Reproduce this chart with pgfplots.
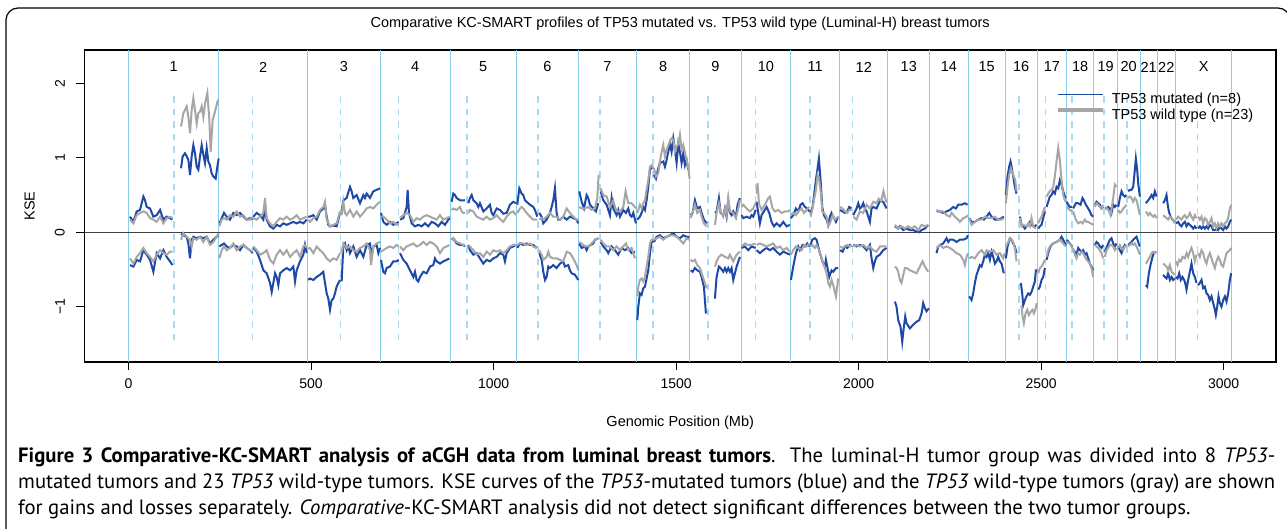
\documentclass[border=0pt]{standalone}
\usepackage{pgfplots}
\pgfplotsset{compat=1.18}
\usepackage{pgfplotstable}
\usepackage{fontspec}
\setmainfont{Liberation Sans}
\newfontfamily\capfont{PT Sans}
\definecolor{mutblue}{RGB}{31,73,166}
\definecolor{wtgray}{RGB}{166,166,166}
\definecolor{chrline}{RGB}{135,206,235}
\definecolor{cenline}{RGB}{170,218,242}

% gains, TP53 mutated
\pgfplotstableread{
x y
4.1 0.21
13.2 0.14
22.4 0.28
31.5 0.30
40.6 0.48
45.2 0.43
49.8 0.34
58.9 0.32
68.0 0.21
77.1 0.23
86.3 0.30
95.4 0.17
104.5 0.21
113.6 0.19
120.1 0.17
nan nan
143.8 0.86
148.4 1.02
154.7 1.06
159.3 1.02
163.9 0.97
168.4 0.77
173.0 1.02
177.6 1.17
182.1 1.06
186.7 0.88
191.3 0.84
195.8 1.02
200.4 1.17
205.0 1.04
209.5 0.93
214.1 1.13
218.6 0.95
223.2 0.90
227.8 0.79
232.3 0.75
238.7 0.72
243.3 0.88
246.9 0.99
nan nan
248.8 0.12
255.2 0.19
261.6 0.26
268.9 0.21
278.0 0.17
287.2 0.26
296.3 0.23
305.4 0.26
314.5 0.21
323.7 0.17
332.8 0.19
340.1 0.17
nan nan
341.9 0.21
351.0 0.26
360.2 0.23
369.3 0.17
373.9 0.34
378.4 0.17
387.6 0.08
396.7 0.05
405.8 0.10
415.0 0.08
424.1 0.12
433.2 0.10
442.4 0.12
451.5 0.14
460.6 0.12
469.7 0.14
478.9 0.12
488.0 0.17
nan nan
492.0 0.21
497.1 0.21
506.2 0.23
515.4 0.17
524.5 0.28
533.6 0.32
538.2 0.37
542.8 0.21
547.3 0.10
551.9 0.08
561.0 0.09
570.1 0.08
579.3 0.26
nan nan
583.8 0.28
588.4 0.43
597.5 0.46
606.7 0.61
611.2 0.55
615.8 0.46
624.9 0.50
634.1 0.39
643.2 0.50
647.7 0.46
652.3 0.52
661.4 0.46
670.6 0.55
679.7 0.57
688.8 0.59
nan nan
691.5 0.26
697.9 0.14
707.1 0.10
716.2 0.14
725.3 0.10
734.5 0.12
739.9 0.14
nan nan
743.6 0.17
752.7 0.19
761.9 0.34
764.6 0.57
768.3 0.26
775.6 0.12
784.7 0.08
793.8 0.10
803.0 0.08
812.1 0.12
821.2 0.08
830.3 0.14
839.5 0.12
848.6 0.08
857.7 0.14
866.9 0.10
876.0 0.17
880.0 0.19
nan nan
885.1 0.41
889.7 0.52
894.3 0.50
898.8 0.46
908.0 0.43
917.1 0.43
921.6 0.43
nan nan
930.8 0.39
935.3 0.46
939.9 0.50
944.5 0.43
953.6 0.39
958.2 0.34
962.7 0.39
971.9 0.28
981.0 0.32
990.1 0.37
994.7 0.26
999.3 0.23
1008.4 0.32
1017.5 0.30
1026.6 0.25
1035.8 0.26
1044.9 0.37
1054.0 0.41
1061.0 0.39
nan nan
1065.0 0.37
1070.5 0.59
1076.8 0.52
1081.4 0.50
1086.0 0.43
1095.1 0.39
1099.7 0.37
1108.8 0.34
1113.4 0.30
1119.8 0.21
nan nan
1125.2 0.26
1131.6 0.21
1136.2 0.12
1145.3 0.17
1154.5 0.26
1159.0 0.34
1163.6 0.43
1168.1 0.59
1172.7 0.26
1177.3 0.17
1181.8 0.17
1191.0 0.21
1200.1 0.17
1209.2 0.21
1218.4 0.19
1227.5 0.17
1232.1 0.12
nan nan
1234.8 0.55
1241.2 0.41
1247.6 0.32
1254.9 0.50
1259.4 0.46
1264.0 0.37
1273.1 0.32
1280.4 0.28
1286.8 0.39
nan nan
1293.2 0.55
1300.5 0.43
1309.7 0.37
1314.2 0.30
1318.8 0.23
1323.4 0.46
1327.9 0.32
1337.1 0.23
1341.6 0.30
1346.2 0.21
1355.3 0.30
1362.6 0.26
1369.0 0.32
1373.6 0.23
1378.1 0.21
1382.7 0.26
1390.0 0.12
nan nan
1393.7 0.17
1400.9 0.21
1405.5 0.26
1410.1 0.34
1414.7 0.30
1419.2 0.43
1423.8 0.61
1428.4 0.84
1432.9 0.86
1437.5 0.88
nan nan
1439.3 0.77
1444.8 0.72
1451.2 0.86
1455.7 0.93
1464.9 0.95
1469.4 0.88
1474.0 0.97
1483.1 1.19
1487.7 1.08
1492.3 1.26
1496.8 1.11
1501.4 0.93
1506.0 1.19
1510.5 1.08
1515.1 0.93
1519.7 1.06
1524.2 0.90
1528.8 0.97
1533.3 0.84
nan nan
1540.0 0.23
1545.2 0.26
1551.6 0.43
1558.0 0.32
1565.3 0.34
1569.9 0.26
1576.2 0.17
1583.6 0.12
nan nan
1606.4 0.26
1610.9 0.28
1617.3 0.46
1621.9 0.26
1629.2 0.23
1633.8 0.32
1638.3 0.21
1642.9 0.43
1647.5 0.26
1652.0 0.23
1656.6 0.28
1663.9 0.21
1668.5 0.37
1674.9 0.46
nan nan
1679.4 0.23
1684.0 0.19
1693.1 0.21
1702.2 0.19
1706.8 0.23
1711.4 0.21
1717.8 0.30
nan nan
1720.5 0.41
1725.1 0.26
1729.6 0.12
1734.2 0.23
1740.6 0.28
1747.9 0.34
1755.2 0.26
1761.6 0.14
1768.0 0.08
1775.3 0.12
1784.4 0.08
1793.5 0.14
1802.7 0.08
1811.8 0.10
nan nan
1814.5 0.19
1820.9 0.23
1828.2 0.32
1834.6 0.28
1841.0 0.37
1846.5 0.39
1852.9 0.34
1859.3 0.32
1864.8 0.28
nan nan
1868.4 0.26
1873.9 0.34
1877.5 0.48
1883.0 0.70
1887.6 0.86
1891.2 0.99
1895.8 0.70
1900.4 0.34
1904.9 0.23
1912.2 0.17
1916.8 0.10
1921.4 0.21
1925.9 0.26
1930.5 0.21
1937.8 0.14
1944.2 0.21
nan nan
1948.8 0.30
1956.1 0.28
1962.4 0.26
1968.8 0.28
1974.3 0.34
1980.7 0.32
nan nan
1985.3 0.23
1994.4 0.32
1999.0 0.39
2003.5 0.32
2008.1 0.34
2012.7 0.39
2017.2 0.32
2021.8 0.28
2026.4 0.21
2030.9 0.14
2035.5 0.32
2040.1 0.34
2049.2 0.32
2058.3 0.42
2067.4 0.41
2076.6 0.32
nan nan
2099.4 0.08
2108.5 0.05
2113.1 0.08
2122.2 0.03
2131.3 0.05
2140.5 0.03
2149.6 0.03
2158.7 0.01
2166.0 0.00
2172.4 0.03
2181.6 0.05
2190.7 0.10
nan nan
2213.5 0.28
2222.6 0.28
2231.8 0.26
2240.9 0.28
2250.0 0.30
2259.2 0.34
2266.5 0.32
2272.9 0.37
2282.0 0.37
2291.1 0.39
2298.4 0.37
nan nan
2303.0 0.19
2309.4 0.14
2318.5 0.14
2327.6 0.17
2336.8 0.19
2343.2 0.17
2350.5 0.21
2357.8 0.26
2364.2 0.21
2373.3 0.17
2382.4 0.17
2391.5 0.19
2397.9 0.21
nan nan
2403.4 0.50
2408.0 0.75
2412.5 0.88
2416.2 0.95
2419.8 0.86
2423.5 0.75
2428.0 0.61
2432.6 0.52
nan nan
2441.8 0.21
2446.3 0.10
2450.9 0.08
2455.5 0.05
2460.0 0.08
2464.6 0.10
2469.2 0.14
2473.7 0.10
2478.3 0.08
2482.8 0.08
2487.4 0.10
nan nan
2492.0 0.05
2496.5 0.08
2501.1 0.10
2505.7 0.19
2510.2 0.28
nan nan
2514.8 0.34
2519.4 0.41
2523.9 0.48
2528.5 0.50
2533.1 0.55
2537.6 0.52
2542.2 0.61
2546.8 0.59
2551.3 0.70
2555.9 0.64
2560.5 0.55
2565.0 0.48
2567.8 0.46
nan nan
2569.6 0.41
2574.2 0.37
2578.7 0.34
2585.1 0.34
nan nan
2587.8 0.32
2595.1 0.39
2601.5 0.39
2607.9 0.37
2613.4 0.46
2617.0 0.43
2622.5 0.37
2628.9 0.32
2633.5 0.28
2638.0 0.23
2642.6 0.21
nan nan
2647.2 0.37
2651.7 0.41
2656.3 0.39
2660.9 0.37
2665.4 0.32
2670.0 0.34
nan nan
2674.6 0.32
2679.1 0.32
2683.7 0.34
2688.3 0.32
2692.8 0.26
2697.4 0.37
2702.0 0.34
2706.5 0.37
nan nan
2711.1 0.34
2715.7 0.46
2720.2 0.55
2724.8 0.50
2729.3 0.48
2733.9 0.50
nan nan
2738.5 0.55
2743.0 0.57
2747.6 0.57
2752.2 0.61
2756.7 0.84
2759.5 0.99
2763.1 0.84
2765.9 0.66
2770.4 0.48
nan nan
2786.9 0.39
2793.3 0.43
2797.8 0.46
2802.4 0.50
2807.0 0.46
2811.5 0.55
2816.1 0.48
nan nan
2834.3 0.39
2838.9 0.43
2843.5 0.50
2846.2 0.39
2849.9 0.28
2854.4 0.21
2859.9 0.17
2866.3 0.14
nan nan
2869.0 0.12
2875.4 0.14
2880.0 0.10
2884.6 0.08
2889.1 0.12
2893.7 0.14
2898.3 0.08
2902.8 0.12
2907.4 0.10
2911.9 0.08
2916.5 0.05
2921.1 0.08
2925.6 0.05
nan nan
2930.2 0.05
2934.8 0.08
2939.3 0.05
2943.9 0.08
2948.5 0.05
2953.0 0.08
2957.6 0.05
2962.2 0.10
2966.7 0.08
2971.3 0.03
2975.9 0.03
2980.4 0.05
2985.0 0.03
2989.6 0.08
2994.1 0.05
2998.7 0.03
3003.3 0.08
3007.8 0.05
3012.4 0.08
3017.0 0.14
3020.6 0.17
}\gainmut

% gains, TP53 wild type
\pgfplotstableread{
x y
4.1 0.17
13.2 0.12
22.4 0.23
31.5 0.26
40.6 0.28
49.8 0.26
58.9 0.19
68.0 0.17
77.1 0.14
86.3 0.21
95.4 0.12
104.5 0.19
113.6 0.21
120.1 0.19
nan nan
143.8 1.42
150.2 1.60
159.3 1.69
163.9 1.55
168.4 1.33
173.0 1.64
177.6 1.80
182.1 1.64
186.7 1.46
191.3 1.60
195.8 1.62
200.4 1.69
205.0 1.55
209.5 1.73
215.9 1.87
221.4 1.51
225.0 1.08
230.5 1.51
236.9 1.62
243.3 1.75
246.9 1.78
nan nan
248.8 0.08
255.2 0.17
261.6 0.19
268.9 0.17
278.0 0.23
287.2 0.21
296.3 0.28
305.4 0.21
314.5 0.23
323.7 0.17
332.8 0.17
340.1 0.21
nan nan
341.9 0.19
351.0 0.17
360.2 0.21
369.3 0.26
373.9 0.46
378.4 0.19
387.6 0.12
396.7 0.08
405.8 0.14
415.0 0.19
424.1 0.17
433.2 0.21
442.4 0.17
451.5 0.19
460.6 0.23
469.7 0.17
478.9 0.19
488.0 0.21
nan nan
492.0 0.17
497.1 0.14
506.2 0.19
515.4 0.21
524.5 0.30
533.6 0.34
538.2 0.41
542.8 0.17
551.9 0.08
561.0 0.10
570.1 0.12
579.3 0.28
nan nan
583.8 0.23
588.4 0.41
593.0 0.26
597.5 0.23
606.7 0.30
615.8 0.21
624.9 0.28
634.1 0.21
643.2 0.26
652.3 0.32
661.4 0.34
670.6 0.32
679.7 0.37
688.8 0.41
nan nan
691.5 0.21
697.9 0.21
707.1 0.17
716.2 0.12
725.3 0.14
734.5 0.10
739.9 0.12
nan nan
743.6 0.19
752.7 0.23
761.9 0.26
771.0 0.23
780.1 0.14
789.3 0.19
798.4 0.17
807.5 0.21
816.7 0.23
825.8 0.21
834.9 0.19
844.0 0.17
853.2 0.23
862.3 0.17
871.4 0.19
880.0 0.21
nan nan
885.1 0.30
889.7 0.32
898.8 0.30
908.0 0.34
912.5 0.28
917.1 0.26
921.6 0.26
nan nan
930.8 0.26
935.3 0.30
944.5 0.28
953.6 0.21
962.7 0.19
971.9 0.17
981.0 0.21
990.1 0.17
999.3 0.19
1008.4 0.23
1017.5 0.18
1026.6 0.14
1035.8 0.21
1044.9 0.26
1054.0 0.28
1061.0 0.23
nan nan
1065.0 0.26
1072.3 0.32
1076.8 0.34
1081.4 0.32
1090.5 0.26
1099.7 0.21
1108.8 0.17
1119.8 0.17
nan nan
1125.2 0.17
1131.6 0.19
1136.2 0.17
1145.3 0.21
1154.5 0.26
1163.6 0.21
1172.7 0.21
1181.8 0.17
1191.0 0.21
1200.1 0.32
1209.2 0.26
1218.4 0.21
1227.5 0.17
1232.1 0.17
nan nan
1234.8 0.34
1241.2 0.32
1250.3 0.32
1259.4 0.34
1268.6 0.30
1277.7 0.32
1284.1 0.46
1287.8 0.77
nan nan
1293.2 0.59
1300.5 0.50
1309.7 0.48
1318.8 0.34
1327.9 0.43
1332.5 0.34
1337.1 0.28
1346.2 0.28
1355.3 0.34
1361.7 0.55
1369.0 0.39
1378.1 0.39
1387.3 0.34
1391.0 0.32
nan nan
1393.7 0.26
1400.9 0.37
1405.5 0.32
1410.1 0.39
1414.7 0.43
1419.2 0.57
1423.8 0.70
1428.4 0.88
1432.9 0.90
1437.5 0.86
nan nan
1439.3 0.86
1444.8 0.75
1451.2 0.79
1455.7 0.95
1460.3 1.08
1464.9 1.17
1469.4 1.02
1474.0 1.11
1483.1 1.22
1487.7 1.26
1492.3 1.24
1496.8 1.08
1501.4 1.15
1506.0 1.19
1510.5 1.31
1515.1 1.11
1519.7 1.17
1528.8 0.97
1533.3 0.86
1537.0 0.72
nan nan
1540.0 0.19
1545.2 0.26
1551.6 0.37
1558.0 0.26
1565.3 0.30
1569.9 0.21
1576.2 0.12
1583.6 0.08
nan nan
1606.4 0.10
1610.9 0.26
1617.3 0.39
1621.9 0.28
1629.2 0.21
1633.8 0.32
1638.3 0.23
1642.9 0.46
1647.5 0.28
1656.6 0.26
1663.9 0.19
1668.5 0.28
1674.9 0.43
nan nan
1679.4 0.34
1684.0 0.37
1693.1 0.32
1702.2 0.28
1711.4 0.32
1717.8 0.39
nan nan
1720.5 0.52
1723.2 0.66
1726.9 0.39
1734.2 0.30
1743.3 0.37
1752.5 0.46
1757.0 0.48
1764.3 0.32
1770.7 0.28
1779.9 0.30
1789.0 0.26
1798.1 0.28
1807.2 0.28
1811.8 0.30
nan nan
1814.5 0.23
1820.9 0.26
1828.2 0.23
1834.6 0.28
1843.8 0.32
1850.2 0.26
1857.5 0.30
1864.8 0.34
nan nan
1868.4 0.21
1873.9 0.32
1877.5 0.43
1883.0 0.57
1887.6 0.77
1892.1 0.70
1896.7 0.52
1900.4 0.28
1904.9 0.26
1912.2 0.21
1916.8 0.08
1921.4 0.12
1928.7 0.23
1935.1 0.17
1944.2 0.21
nan nan
1948.8 0.34
1956.1 0.32
1962.4 0.28
1968.8 0.26
1974.3 0.30
1980.7 0.30
nan nan
1985.3 0.21
1994.4 0.17
1999.0 0.23
2003.5 0.28
2012.7 0.26
2021.8 0.37
2030.9 0.32
2040.1 0.41
2049.2 0.39
2055.0 0.45
2062.0 0.42
2068.0 0.55
2072.0 0.47
2077.0 0.40
nan nan
2099.4 0.10
2108.5 0.05
2117.6 0.08
2126.8 0.05
2135.9 0.08
2145.0 0.05
2154.2 0.08
2163.3 0.03
2172.4 0.10
2181.6 0.08
2190.7 0.10
nan nan
2213.5 0.30
2222.6 0.28
2231.8 0.28
2240.9 0.23
2250.0 0.21
2254.6 0.26
2263.7 0.21
2272.9 0.17
2277.4 0.14
2286.6 0.19
2295.7 0.21
2300.0 0.23
nan nan
2303.0 0.19
2309.4 0.10
2318.5 0.14
2327.6 0.17
2336.8 0.17
2345.9 0.21
2355.0 0.19
2364.2 0.19
2373.3 0.21
2382.4 0.17
2391.5 0.17
2397.9 0.19
nan nan
2403.4 0.39
2408.0 0.61
2412.5 0.77
2417.1 0.86
2420.8 0.81
2425.3 0.75
2429.0 0.70
2432.6 0.55
nan nan
2441.8 0.19
2446.3 0.08
2450.9 0.10
2460.0 0.08
2464.6 0.12
2469.2 0.08
2473.7 0.19
2478.3 0.08
2485.6 0.05
nan nan
2492.0 0.12
2496.5 0.17
2501.1 0.21
2505.7 0.28
2510.2 0.34
nan nan
2514.8 0.48
2519.4 0.52
2523.9 0.55
2528.5 0.57
2533.1 0.61
2537.6 0.75
2542.2 0.95
2546.8 1.13
2551.3 0.97
2555.9 0.70
2560.5 0.50
2565.0 0.43
2567.8 0.41
nan nan
2569.6 0.34
2578.7 0.30
2585.1 0.28
nan nan
2587.8 0.28
2595.1 0.17
2601.5 0.12
2607.9 0.14
2613.4 0.12
2619.8 0.17
2624.4 0.14
2628.9 0.14
2635.3 0.12
2642.6 0.10
nan nan
2647.2 0.34
2651.7 0.39
2656.3 0.37
2660.9 0.34
2665.4 0.32
2670.0 0.37
nan nan
2674.6 0.34
2680.9 0.32
2686.4 0.28
2690.1 0.23
2693.7 0.34
2697.4 0.46
2702.0 0.64
2706.5 0.61
nan nan
2711.1 0.30
2715.7 0.26
2720.2 0.28
2724.8 0.32
2729.3 0.34
2733.9 0.37
nan nan
2738.5 0.46
2743.0 0.48
2747.6 0.46
2752.2 0.41
2756.7 0.46
2761.3 0.43
2765.9 0.34
2770.4 0.23
nan nan
2786.9 0.28
2793.3 0.23
2797.8 0.26
2802.4 0.23
2807.0 0.21
2811.5 0.23
2816.1 0.19
nan nan
2834.3 0.23
2838.9 0.21
2843.5 0.19
2848.0 0.17
2852.6 0.21
2857.2 0.19
2861.7 0.17
2866.3 0.12
nan nan
2869.0 0.17
2875.4 0.21
2880.0 0.19
2884.6 0.17
2889.1 0.21
2893.7 0.23
2898.3 0.19
2902.8 0.21
2907.4 0.26
2911.9 0.21
2916.5 0.17
2921.1 0.23
2925.6 0.19
nan nan
2930.2 0.21
2934.8 0.17
2939.3 0.21
2943.9 0.12
2948.5 0.19
2953.0 0.17
2957.6 0.10
2962.2 0.14
2966.7 0.19
2971.3 0.08
2975.9 0.12
2980.4 0.05
2985.0 0.12
2989.6 0.08
2994.1 0.12
2998.7 0.08
3003.3 0.12
3007.8 0.14
3012.4 0.19
3017.0 0.32
3020.6 0.37
}\gainwt

% losses, TP53 mutated
\pgfplotstableread{
x y
4.1 -0.44
13.2 -0.46
22.4 -0.37
31.5 -0.39
40.6 -0.24
49.8 -0.30
58.9 -0.37
68.0 -0.53
77.1 -0.28
86.3 -0.35
95.4 -0.24
104.5 -0.33
113.6 -0.39
120.1 -0.44
nan nan
143.8 -0.02
150.2 -0.04
159.3 -0.06
163.9 -0.15
168.4 -0.35
173.0 -0.10
177.6 -0.06
186.7 -0.08
195.8 -0.06
205.0 -0.08
214.1 -0.06
223.2 -0.15
232.3 -0.10
241.5 -0.06
246.9 -0.04
nan nan
248.8 -0.19
255.2 -0.17
261.6 -0.15
268.9 -0.19
278.0 -0.21
287.2 -0.17
296.3 -0.19
305.4 -0.24
314.5 -0.17
323.7 -0.21
332.8 -0.24
340.1 -0.28
nan nan
341.9 -0.21
351.0 -0.26
360.2 -0.37
369.3 -0.51
378.4 -0.55
387.6 -0.68
392.2 -0.80
396.7 -0.68
401.3 -0.55
405.8 -0.60
410.4 -0.71
415.0 -0.55
424.1 -0.51
433.2 -0.48
442.4 -0.51
451.5 -0.46
456.1 -0.66
460.6 -0.51
469.7 -0.39
478.9 -0.30
483.4 -0.17
488.0 -0.28
nan nan
492.0 -0.64
497.1 -0.62
506.2 -0.64
515.4 -0.60
524.5 -0.57
533.6 -0.53
538.2 -0.68
542.8 -0.82
547.3 -0.89
551.9 -1.04
556.4 -0.91
561.0 -0.89
565.6 -0.82
570.1 -0.73
579.3 -0.64
nan nan
583.8 -0.66
588.4 -0.19
593.0 -0.15
597.5 -0.24
602.1 -0.19
606.7 -0.28
615.8 -0.19
624.9 -0.33
634.1 -0.24
643.2 -0.33
652.3 -0.17
661.4 -0.15
666.0 -0.33
670.6 -0.19
679.7 -0.17
684.3 -0.28
688.8 -0.21
nan nan
691.5 -0.37
697.9 -0.53
702.5 -0.55
707.1 -0.48
716.2 -0.46
725.3 -0.39
734.5 -0.39
739.9 -0.37
nan nan
743.6 -0.28
752.7 -0.37
761.9 -0.42
771.0 -0.51
780.1 -0.60
784.7 -0.53
789.3 -0.64
793.8 -0.66
798.4 -0.60
807.5 -0.53
816.7 -0.55
825.8 -0.46
834.9 -0.44
839.5 -0.35
844.0 -0.39
853.2 -0.42
862.3 -0.39
871.4 -0.37
878.7 -0.35
nan nan
885.1 -0.10
889.7 -0.08
898.8 -0.15
908.0 -0.17
917.1 -0.17
921.6 -0.19
nan nan
930.8 -0.17
935.3 -0.24
944.5 -0.30
953.6 -0.28
962.7 -0.35
971.9 -0.42
981.0 -0.37
990.1 -0.39
999.3 -0.35
1008.4 -0.33
1017.5 -0.28
1026.6 -0.30
1031.2 -0.39
1035.8 -0.28
1044.9 -0.21
1054.0 -0.19
1061.0 -0.17
nan nan
1065.0 -0.21
1072.3 -0.15
1081.4 -0.17
1090.5 -0.15
1099.7 -0.17
1108.8 -0.17
1117.9 -0.21
nan nan
1125.2 -0.28
1131.6 -0.37
1136.2 -0.53
1140.8 -0.64
1145.3 -0.60
1149.9 -0.46
1154.5 -0.48
1163.6 -0.44
1172.7 -0.48
1181.8 -0.42
1191.0 -0.39
1195.5 -0.46
1204.7 -0.44
1209.2 -0.51
1213.8 -0.55
1222.9 -0.57
1232.1 -0.64
nan nan
1234.8 -0.15
1241.2 -0.21
1250.3 -0.19
1254.9 -0.24
1259.4 -0.19
1265.8 -0.17
1273.1 -0.15
1277.7 -0.10
1286.8 -0.08
nan nan
1293.2 -0.13
1300.5 -0.19
1309.7 -0.24
1314.2 -0.28
1323.4 -0.19
1332.5 -0.24
1341.6 -0.30
1350.7 -0.21
1359.9 -0.24
1369.0 -0.21
1378.1 -0.28
1387.3 -0.26
nan nan
1393.7 -1.18
1396.4 -1.00
1400.9 -0.82
1405.5 -0.84
1410.1 -0.75
1414.7 -0.73
1419.2 -0.62
1423.8 -0.51
1428.4 -0.28
1432.9 -0.13
1437.5 -0.13
nan nan
1439.3 -0.13
1446.6 -0.06
1455.7 -0.04
1464.9 -0.08
1474.0 -0.06
1483.1 -0.04
1492.3 -0.01
1501.4 -0.06
1510.5 -0.08
1519.7 -0.04
1528.8 -0.06
1536.1 -0.06
nan nan
1540.0 -0.51
1545.2 -0.53
1551.6 -0.48
1558.0 -0.51
1565.3 -0.53
1569.9 -0.60
1576.2 -0.73
1581.7 -1.09
nan nan
1606.4 -0.89
1610.9 -0.60
1617.3 -0.46
1621.9 -0.48
1629.2 -0.53
1633.8 -0.48
1638.3 -0.53
1642.9 -0.48
1647.5 -0.53
1652.0 -0.48
1656.6 -0.64
1665.7 -0.46
1674.9 -0.33
nan nan
1679.4 -0.21
1688.5 -0.19
1697.7 -0.24
1706.8 -0.19
1717.8 -0.21
nan nan
1720.5 -0.24
1729.6 -0.28
1738.8 -0.24
1747.9 -0.21
1757.0 -0.24
1766.2 -0.21
1775.3 -0.26
1784.4 -0.30
1793.5 -0.26
1802.7 -0.28
1811.8 -0.30
nan nan
1814.5 -0.64
1820.9 -0.46
1828.2 -0.28
1834.6 -0.19
1839.2 -0.24
1846.5 -0.17
1852.9 -0.19
1859.3 -0.15
1864.8 -0.19
nan nan
1868.4 -0.17
1873.0 -0.10
1880.3 -0.08
1884.8 -0.10
1889.4 -0.19
1894.0 -0.28
1898.5 -0.35
1903.1 -0.42
1907.7 -0.46
1910.4 -0.37
1914.1 -0.46
1919.5 -0.60
1925.9 -0.51
1930.5 -0.53
1937.8 -0.48
1944.2 -0.48
nan nan
1948.8 -0.24
1956.1 -0.26
1962.4 -0.19
1968.8 -0.21
1976.1 -0.17
1980.7 -0.19
nan nan
1985.3 -0.17
1994.4 -0.19
2003.5 -0.17
2012.7 -0.19
2021.8 -0.24
2030.9 -0.17
2035.5 -0.35
2040.1 -0.48
2044.6 -0.39
2049.2 -0.33
2058.3 -0.30
2067.4 -0.24
2076.6 -0.21
nan nan
2099.4 -0.93
2103.9 -1.00
2108.5 -1.18
2114.9 -1.27
2119.5 -1.47
2124.0 -1.27
2127.7 -1.13
2131.3 -1.22
2140.5 -1.29
2149.6 -1.24
2158.7 -1.20
2166.0 -1.18
2172.4 -1.09
2177.0 -0.95
2181.6 -1.02
2186.1 -1.06
2192.5 -1.02
nan nan
2213.5 -0.28
2218.1 -0.19
2222.6 -0.17
2231.8 -0.15
2240.9 -0.08
2245.5 -0.13
2250.0 -0.10
2259.2 -0.10
2268.3 -0.13
2277.4 -0.10
2286.6 -0.10
2295.7 -0.08
2299.3 -0.04
nan nan
2303.0 -0.86
2309.4 -0.91
2313.9 -0.82
2318.5 -0.68
2323.1 -0.57
2327.6 -0.51
2332.2 -0.44
2336.8 -0.46
2341.3 -0.39
2345.9 -0.30
2350.5 -0.33
2355.0 -0.28
2359.6 -0.37
2364.2 -0.26
2368.7 -0.33
2373.3 -0.42
2377.9 -0.39
2382.4 -0.33
2387.0 -0.39
2391.5 -0.42
2397.9 -0.55
nan nan
2403.4 -0.35
2408.0 -0.19
2414.4 -0.08
2418.9 -0.10
2423.5 -0.15
2428.0 -0.19
2432.6 -0.28
nan nan
2444.5 -0.68
2448.2 -0.82
2450.9 -0.98
2455.5 -0.91
2460.0 -0.86
2464.6 -0.82
2469.2 -0.84
2473.7 -0.80
2478.3 -0.73
2482.8 -0.66
2485.6 -0.51
2489.2 -0.51
nan nan
2492.0 -0.77
2496.5 -0.73
2501.1 -0.64
2505.7 -0.60
2510.2 -0.48
nan nan
2514.8 -0.37
2519.4 -0.28
2523.9 -0.21
2528.5 -0.17
2533.1 -0.15
2542.2 -0.13
2551.3 -0.10
2555.9 -0.06
2560.5 -0.10
2567.8 -0.17
nan nan
2569.6 -0.10
2578.7 -0.15
2585.1 -0.19
nan nan
2587.8 -0.24
2592.4 -0.26
2597.0 -0.30
2601.5 -0.21
2606.1 -0.24
2610.7 -0.26
2615.2 -0.24
2619.8 -0.30
2624.4 -0.28
2628.9 -0.35
2633.5 -0.42
2638.0 -0.46
2642.6 -0.51
nan nan
2647.2 -0.17
2651.7 -0.13
2656.3 -0.15
2660.9 -0.19
2665.4 -0.21
2670.0 -0.17
nan nan
2674.6 -0.26
2679.1 -0.21
2683.7 -0.15
2688.3 -0.10
2692.8 -0.08
2697.4 -0.15
2702.0 -0.19
2706.5 -0.15
nan nan
2711.1 -0.19
2715.7 -0.24
2720.2 -0.28
2724.8 -0.21
2729.3 -0.17
2733.9 -0.19
nan nan
2738.5 -0.17
2743.0 -0.15
2747.6 -0.13
2752.2 -0.10
2756.7 -0.08
2761.3 -0.06
2765.9 -0.13
2770.4 -0.19
nan nan
2786.9 -0.71
2790.5 -0.73
2795.1 -0.55
2799.6 -0.44
2805.1 -0.33
2808.8 -0.28
2814.3 -0.26
nan nan
2834.3 -0.57
2838.9 -0.60
2843.5 -0.62
2848.0 -0.55
2852.6 -0.64
2857.2 -0.60
2861.7 -0.64
2866.3 -0.62
nan nan
2869.0 -0.60
2873.6 -0.62
2878.2 -0.55
2882.7 -0.64
2887.3 -0.60
2893.7 -0.66
2898.3 -0.77
2902.8 -0.64
2907.4 -0.53
2911.9 -0.42
2916.5 -0.55
2921.1 -0.60
2925.6 -0.68
nan nan
2930.2 -0.71
2934.8 -0.68
2939.3 -0.64
2943.9 -0.75
2948.5 -0.73
2953.0 -0.82
2957.6 -0.84
2962.2 -0.91
2966.7 -0.86
2971.3 -0.95
2975.9 -1.04
2978.6 -1.11
2982.3 -1.00
2985.9 -0.86
2989.6 -0.95
2994.1 -1.00
2998.7 -0.91
3003.3 -0.86
3007.8 -0.93
3012.4 -0.82
3017.0 -0.64
3020.6 -0.55
}\lossmut

% losses, TP53 wild type
\pgfplotstableread{
x y
4.1 -0.35
13.2 -0.42
22.4 -0.33
31.5 -0.28
40.6 -0.21
49.8 -0.28
58.9 -0.33
68.0 -0.39
77.1 -0.30
86.3 -0.24
95.4 -0.28
104.5 -0.30
113.6 -0.26
120.1 -0.26
nan nan
143.8 -0.10
150.2 -0.01
159.3 -0.06
168.4 -0.10
173.0 -0.19
177.6 -0.08
186.7 -0.10
195.8 -0.06
205.0 -0.13
214.1 -0.06
223.2 -0.17
232.3 -0.13
241.5 -0.06
246.9 -0.01
nan nan
248.8 -0.35
255.2 -0.24
261.6 -0.19
268.9 -0.24
278.0 -0.21
287.2 -0.15
296.3 -0.24
305.4 -0.19
314.5 -0.17
323.7 -0.21
332.8 -0.24
340.1 -0.26
nan nan
341.9 -0.19
351.0 -0.24
360.2 -0.30
369.3 -0.28
378.4 -0.24
387.6 -0.37
396.7 -0.42
405.8 -0.30
415.0 -0.24
424.1 -0.30
433.2 -0.24
442.4 -0.33
451.5 -0.28
460.6 -0.24
469.7 -0.33
478.9 -0.19
483.4 -0.17
488.5 -0.21
nan nan
492.0 -0.22
497.1 -0.21
506.2 -0.28
515.4 -0.19
524.5 -0.24
533.6 -0.28
542.8 -0.35
551.9 -0.39
561.0 -0.35
570.1 -0.37
579.3 -0.28
nan nan
583.8 -0.28
588.4 -0.15
597.5 -0.21
606.7 -0.19
615.8 -0.24
624.9 -0.26
634.1 -0.21
643.2 -0.19
652.3 -0.15
661.4 -0.24
664.2 -0.44
670.6 -0.19
679.7 -0.15
688.8 -0.13
nan nan
691.5 -0.26
697.9 -0.24
707.1 -0.21
716.2 -0.19
725.3 -0.21
734.5 -0.17
739.9 -0.19
nan nan
743.6 -0.19
752.7 -0.24
761.9 -0.19
771.0 -0.17
780.1 -0.15
789.3 -0.19
798.4 -0.17
807.5 -0.13
816.7 -0.17
825.8 -0.13
834.9 -0.15
844.0 -0.19
853.2 -0.28
862.3 -0.21
871.4 -0.19
878.7 -0.17
nan nan
885.1 -0.10
889.7 -0.08
898.8 -0.13
908.0 -0.15
917.1 -0.17
921.6 -0.17
nan nan
930.8 -0.19
935.3 -0.19
944.5 -0.24
953.6 -0.30
962.7 -0.28
971.9 -0.33
981.0 -0.26
990.1 -0.30
999.3 -0.24
1008.4 -0.26
1017.5 -0.24
1026.6 -0.28
1035.8 -0.24
1044.9 -0.19
1054.0 -0.17
1061.0 -0.17
nan nan
1065.0 -0.17
1072.3 -0.15
1081.4 -0.15
1090.5 -0.17
1099.7 -0.15
1108.8 -0.19
1117.9 -0.21
nan nan
1125.2 -0.24
1131.6 -0.30
1136.2 -0.37
1145.3 -0.33
1149.9 -0.26
1154.5 -0.33
1163.6 -0.35
1172.7 -0.35
1181.8 -0.37
1191.0 -0.39
1200.1 -0.26
1209.2 -0.28
1218.4 -0.35
1227.5 -0.44
1232.1 -0.51
nan nan
1234.8 -0.13
1241.2 -0.15
1250.3 -0.19
1259.4 -0.19
1268.6 -0.15
1277.7 -0.10
1286.8 -0.08
nan nan
1293.2 -0.10
1300.5 -0.15
1309.7 -0.19
1318.8 -0.19
1327.9 -0.24
1337.1 -0.19
1346.2 -0.24
1355.3 -0.19
1362.6 -0.15
1369.0 -0.24
1378.1 -0.21
1387.3 -0.35
nan nan
1393.7 -0.86
1396.4 -0.73
1400.9 -0.64
1405.5 -0.62
1410.1 -0.66
1414.7 -0.60
1419.2 -0.46
1423.8 -0.33
1428.4 -0.15
1432.9 -0.10
1437.5 -0.10
nan nan
1439.3 -0.10
1446.6 -0.08
1455.7 -0.06
1464.9 -0.10
1474.0 -0.06
1483.1 -0.04
1492.3 -0.04
1501.4 -0.06
1510.5 -0.10
1519.7 -0.15
1528.8 -0.08
1536.1 -0.10
nan nan
1540.0 -0.37
1545.2 -0.39
1551.6 -0.37
1558.0 -0.44
1565.3 -0.48
1569.9 -0.55
1576.2 -0.64
1583.6 -0.75
nan nan
1606.4 -0.46
1610.9 -0.39
1617.3 -0.33
1624.6 -0.30
1633.8 -0.33
1642.9 -0.35
1647.5 -0.30
1656.6 -0.39
1665.7 -0.30
1674.9 -0.26
nan nan
1679.4 -0.19
1688.5 -0.15
1697.7 -0.17
1706.8 -0.17
1717.8 -0.15
nan nan
1720.5 -0.17
1729.6 -0.15
1738.8 -0.17
1747.9 -0.19
1757.0 -0.17
1766.2 -0.15
1775.3 -0.21
1784.4 -0.19
1793.5 -0.24
1802.7 -0.21
1811.8 -0.26
nan nan
1814.5 -0.30
1820.9 -0.24
1828.2 -0.19
1834.6 -0.21
1843.8 -0.24
1850.2 -0.17
1857.5 -0.19
1864.8 -0.15
nan nan
1868.4 -0.19
1873.0 -0.17
1880.3 -0.21
1884.8 -0.17
1889.4 -0.21
1895.8 -0.30
1901.3 -0.39
1907.7 -0.48
1912.2 -0.55
1916.8 -0.68
1921.4 -0.73
1925.9 -0.64
1930.5 -0.71
1937.8 -0.86
1944.2 -0.62
nan nan
1948.8 -0.19
1956.1 -0.21
1962.4 -0.19
1968.8 -0.17
1976.1 -0.19
1980.7 -0.17
nan nan
1985.3 -0.19
1994.4 -0.17
2003.5 -0.19
2012.7 -0.17
2021.8 -0.21
2030.9 -0.19
2040.1 -0.24
2049.2 -0.26
2058.3 -0.19
2067.4 -0.19
2076.6 -0.19
nan nan
2099.4 -0.46
2104.0 -0.48
2108.5 -0.53
2113.1 -0.64
2117.6 -0.68
2122.2 -0.57
2126.8 -0.48
2131.3 -0.48
2140.5 -0.51
2149.6 -0.53
2158.7 -0.55
2167.9 -0.46
2175.2 -0.39
2181.6 -0.46
2190.7 -0.53
nan nan
2213.5 -0.21
2222.6 -0.17
2231.8 -0.21
2240.9 -0.19
2250.0 -0.21
2259.2 -0.24
2268.3 -0.28
2277.4 -0.30
2286.6 -0.37
2291.1 -0.44
2295.7 -0.33
2300.0 -0.28
nan nan
2303.0 -0.35
2309.4 -0.33
2318.5 -0.35
2327.6 -0.28
2336.8 -0.24
2345.9 -0.30
2350.5 -0.24
2359.6 -0.26
2368.7 -0.24
2377.9 -0.30
2387.0 -0.28
2396.1 -0.35
2400.0 -0.28
nan nan
2403.4 -0.19
2408.0 -0.15
2414.4 -0.08
2418.9 -0.10
2423.5 -0.13
2428.0 -0.21
2432.6 -0.39
nan nan
2446.3 -0.98
2449.1 -1.13
2452.7 -1.22
2457.3 -1.09
2461.9 -1.04
2466.4 -1.11
2471.0 -1.07
2476.5 -1.04
2480.1 -1.09
2483.8 -1.04
2488.0 -0.95
nan nan
2492.0 -0.55
2496.5 -0.48
2501.1 -0.46
2505.7 -0.42
2510.2 -0.37
nan nan
2514.8 -0.33
2519.4 -0.24
2523.9 -0.19
2533.1 -0.15
2542.2 -0.13
2551.3 -0.10
2560.5 -0.15
2567.8 -0.19
nan nan
2569.6 -0.13
2578.7 -0.15
2585.1 -0.21
nan nan
2587.8 -0.21
2592.4 -0.30
2597.0 -0.35
2601.5 -0.28
2606.1 -0.30
2610.7 -0.26
2615.2 -0.28
2619.8 -0.33
2624.4 -0.37
2628.9 -0.39
2633.5 -0.42
2638.0 -0.48
2642.6 -0.60
nan nan
2647.2 -0.17
2651.7 -0.19
2656.3 -0.21
2665.4 -0.28
2670.0 -0.35
nan nan
2674.6 -0.33
2679.1 -0.24
2683.7 -0.21
2688.3 -0.17
2692.8 -0.17
2697.4 -0.19
2702.0 -0.24
2706.5 -0.21
nan nan
2711.1 -0.21
2715.7 -0.17
2720.2 -0.21
2724.8 -0.24
2729.3 -0.19
2733.9 -0.17
nan nan
2738.5 -0.19
2743.0 -0.17
2747.6 -0.15
2752.2 -0.17
2756.7 -0.15
2761.3 -0.19
2765.9 -0.24
2770.4 -0.30
nan nan
2786.9 -0.42
2793.3 -0.37
2797.8 -0.33
2802.4 -0.28
2807.0 -0.26
2811.5 -0.28
2816.1 -0.26
nan nan
2834.3 -0.42
2838.9 -0.44
2843.5 -0.46
2848.0 -0.51
2852.6 -0.44
2857.2 -0.53
2861.7 -0.55
2866.3 -0.57
nan nan
2869.0 -0.39
2873.6 -0.44
2878.2 -0.37
2882.7 -0.39
2887.3 -0.33
2893.7 -0.35
2898.3 -0.28
2902.8 -0.33
2907.4 -0.26
2911.9 -0.21
2916.5 -0.28
2921.1 -0.39
2925.6 -0.30
nan nan
2930.2 -0.28
2934.8 -0.33
2939.3 -0.24
2943.9 -0.28
2948.5 -0.37
2953.0 -0.42
2957.6 -0.33
2962.2 -0.28
2966.7 -0.35
2971.3 -0.42
2975.9 -0.48
2980.4 -0.39
2985.0 -0.33
2989.6 -0.37
2994.1 -0.44
2998.7 -0.46
3003.3 -0.37
3007.8 -0.28
3012.4 -0.26
3017.0 -0.24
3020.6 -0.21
}\losswt

% centromere positions (dashed lines)
\pgfplotstableread{
x y
124.6 -1.446
124.6 1.856
nan nan
340.0 -1.446
340.0 1.856
nan nan
581.0 -1.446
581.0 1.856
nan nan
740.0 -1.446
740.0 1.856
nan nan
928.0 -1.446
928.0 1.856
nan nan
1122.0 -1.446
1122.0 1.856
nan nan
1291.5 -1.446
1291.5 1.856
nan nan
1437.0 -1.446
1437.0 1.856
nan nan
1587.0 -1.446
1587.0 1.856
nan nan
1718.0 -1.446
1718.0 1.856
nan nan
1866.5 -1.446
1866.5 1.856
nan nan
1983.0 -1.446
1983.0 1.856
nan nan
2439.0 -1.446
2439.0 1.856
nan nan
2512.0 -1.446
2512.0 1.856
nan nan
2585.0 -1.446
2585.0 1.856
nan nan
2673.0 -1.446
2673.0 1.856
nan nan
2736.0 -1.446
2736.0 1.856
nan nan
2928.0 -1.446
2928.0 1.856
}\centro

\newcommand{\plotfont}{\fontsize{14}{16}\selectfont}
\newcommand{\titlefont}{\fontsize{14.5}{17}\selectfont}

\begin{document}
\begin{tikzpicture}
\useasboundingbox (0,0) rectangle (1287pt,528pt);
\fill[white] (0,0) rectangle (1287pt,528pt);
\begin{axis}[
  at={(84.4pt,166pt)}, anchor=south west,
  scale only axis, width=1191.6pt, height=312pt,
  xmin=-120.9, xmax=3143.4, ymin=-1.741, ymax=2.447,
  axis line style={line width=1.1pt, black},
  tick align=outside, xtick pos=bottom, ytick pos=left,
  major tick length=8pt,
  every tick/.style={black, line width=0.9pt},
  xtick={0,500,1000,1500,2000,2500,3000},
  xticklabels={0,500,1000,1500,2000,2500,3000},
  ytick={-1,0,1,2}, yticklabels={−1,0,1,2},
  tick label style={font=\plotfont},
  xticklabel shift=5pt,
  yticklabel style={rotate=90, anchor=south},
  yticklabel shift=8pt,
  extra x ticks={0,247.2,490.2,689.7,881.0,1061.8,1232.7,1391.5,1537.8,1678.1,1813.5,1948.0,2080.3,2194.4,2300.8,2401.1,2489.9,2568.7,2644.8,2708.6,2771.0,2817.9,2867.6,3022.5},
  extra x tick labels={},
  extra x tick style={grid=major, major tick length=0pt, major grid style={chrline, line width=1pt}},
  title={Comparative KC-SMART profiles of TP53 mutated vs. TP53 wild type (Luminal-H) breast tumors},
  title style={font=\titlefont, at={(axis description cs:0.5,1.064)}, anchor=center},
  xlabel={Genomic Position (Mb)},
  xlabel style={font=\titlefont, at={(axis description cs:0.5,-0.195)}, anchor=center},
  ylabel={KSE},
  ylabel style={font=\titlefont, at={(axis description cs:-0.046,0.5)}, anchor=center},
  unbounded coords=jump,
  legend style={draw=none, fill=none, font=\titlefont, at={(axis description cs:0.815,0.866)}, anchor=north west, inner sep=0pt, row sep=1.5pt, nodes={inner sep=1pt}},
  legend cell align=left,
  legend image code/.code={\draw[#1] (0pt,4.8pt) -- (45pt,4.8pt); \path (0pt,0pt) (51pt,0pt);},
]
\addplot[cenline, line width=1.6pt, dash pattern=on 6.5pt off 6pt, forget plot] table {\centro};
\addplot[black!75, line width=1.1pt, forget plot] coordinates {(-120.9,0) (3143.4,0)};
\addplot[mutblue, line width=2pt, forget plot] table {\gainmut};
\addplot[mutblue, line width=2pt, forget plot] table {\lossmut};
\addplot[wtgray, line width=2pt, forget plot] table {\gainwt};
\addplot[wtgray, line width=2pt, forget plot] table {\losswt};
\addlegendimage{mutblue, line width=1.3pt}
\addlegendentry{TP53 mutated (n=8)}
\addlegendimage{wtgray, line width=4pt}
\addlegendentry{TP53 wild type (n=23)}
\foreach \cx/\lab in {123.6/1,368.7/2,590.0/3,785.4/4,971.4/5,1147.3/6,1312.1/7,1464.7/8,1608.0/9,1745.8/10,1880.8/11,2014.2/12,2137.4/13,2247.6/14,2351.0/15,2445.5/16,2529.3/17,2606.8/18,2676.7/19,2739.8/20,2794.5/21,2842.8/22,2945.1/X}{
  \edef\temp{\noexpand\node[font=\noexpand\titlefont, anchor=center, inner sep=0pt] at (axis cs:\cx,2.219) {\lab};}
  \temp
}
\end{axis}
\draw[line width=1.2pt, rounded corners=12pt] (6pt,-30pt) rectangle (1290pt,520pt);
\begin{scope}[every node/.style={anchor=base west, inner sep=0pt, font=\capfont\fontsize{20.7}{26}\selectfont}]
\node at (18pt,66pt) {\makebox[1257pt][s]{\textbf{Figure 3 Comparative-KC-SMART analysis of aCGH data from luminal breast tumors}. The luminal-H tumor group was divided into 8 \textit{TP53}-}};
\node at (18pt,40pt) {\makebox[1257pt][s]{mutated tumors and 23 \textit{TP53} wild-type tumors. KSE curves of the \textit{TP53}-mutated tumors (blue) and the \textit{TP53} wild-type tumors (gray) are shown}};
\node at (18pt,14pt) {for gains and losses separately. \textit{Comparative}-KC-SMART analysis did not detect significant differences between the two tumor groups.};
\end{scope}
\end{tikzpicture}
\end{document}
